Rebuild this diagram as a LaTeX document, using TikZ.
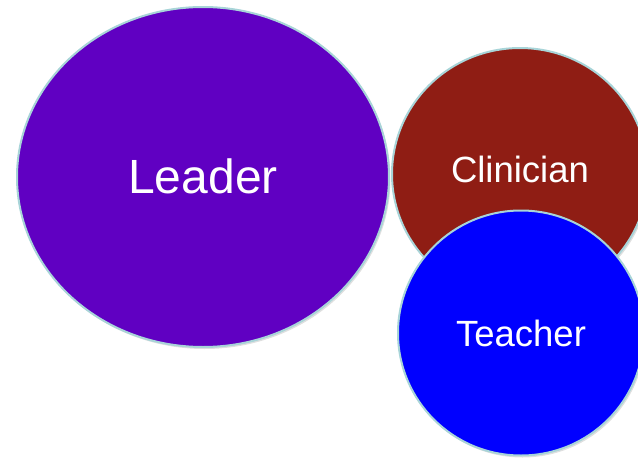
\documentclass[tikz,border=0pt]{standalone}
\usepackage{fontspec}
\setmainfont{Liberation Sans}
\usetikzlibrary{shapes.geometric,shadows}
\definecolor{leaderpurple}{RGB}{96,0,194}
\definecolor{clinicianred}{RGB}{143,29,20}
\definecolor{teacherblue}{RGB}{0,0,255}
\definecolor{rimblue}{RGB}{168,212,216}
\tikzset{
  role/.style={ellipse, draw=rimblue, line width=2pt, text=white, inner sep=0pt,
    drop shadow={shadow xshift=1.5pt, shadow yshift=-2pt, opacity=0.25}},
}
\begin{document}
\begin{tikzpicture}[x=1pt, y=-1pt]
    \useasboundingbox (0,0) rectangle (638,458);
    \clip (0,0) rectangle (638,458);
    \node[role, fill=leaderpurple, minimum width=372pt, minimum height=340pt,
        font=\fontsize{48}{56}\selectfont] (leader) at (203,177) {\raisebox{2pt}{Leader}};
    \node[role, fill=clinicianred, minimum width=256pt, minimum height=252pt,
        font=\fontsize{36.5}{42}\selectfont] (clinician) at (520,174) {\raisebox{10pt}{Clinician}};
    \node[role, fill=teacherblue, minimum width=246pt, minimum height=245pt,
        font=\fontsize{36.5}{42}\selectfont] (teacher) at (521,333) {\raisebox{-3pt}{Teacher}};
\end{tikzpicture}
\end{document}
